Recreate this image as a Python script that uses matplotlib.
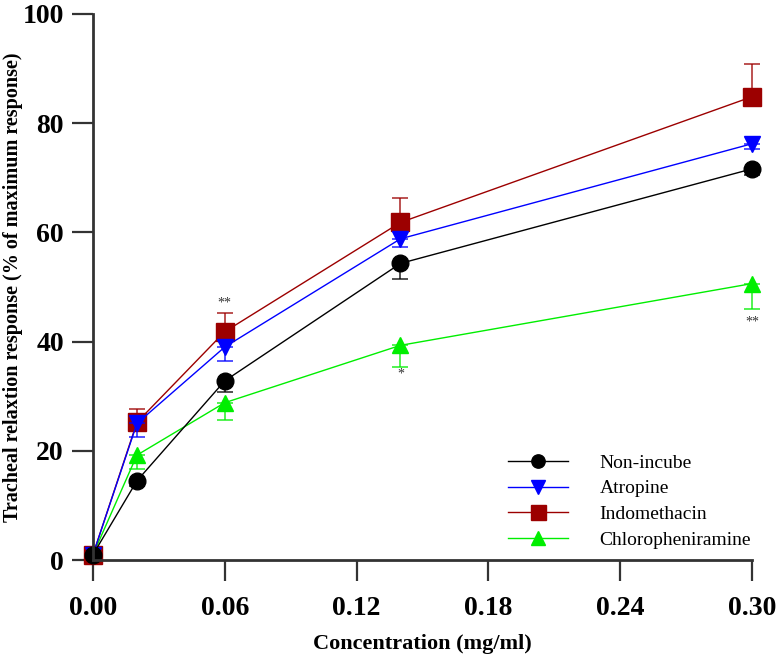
import matplotlib.pyplot as plt

conc = [0.0, 0.02, 0.06, 0.14, 0.30]

non_incube = [1.0, 14.5, 32.8, 54.3, 71.6]
non_incube_err = [0.5, 1.0, 2.0, 2.9, 1.2]

atropine = [1.0, 25.0, 39.0, 58.8, 76.2]
atropine_err = [0.5, 2.5, 2.5, 1.5, 1.0]

indomethacin = [1.0, 25.2, 41.8, 61.8, 84.8]
indomethacin_err = [0.5, 2.5, 3.5, 4.5, 6.0]

chlorphen = [1.0, 19.2, 28.8, 39.3, 50.6]
chlorphen_err = [0.5, 2.5, 3.2, 4.0, 4.7]

x_ticks = [0.00, 0.06, 0.12, 0.18, 0.24, 0.30]
y_ticks = [0, 20, 40, 60, 80, 100]

# (x, y, text) significance marks
stars = [(0.06, 47.0, '**'), (0.14, 34.0, '*'), (0.30, 43.5, '**')]

plt.rcParams['font.family'] = ['Liberation Serif', 'DejaVu Serif']

fig = plt.figure(figsize=(7.77, 6.55), dpi=100)
ax = fig.add_axes([0.1197, 0.145, 0.848, 0.834])

series = [
    # label, y, err, color, marker, size, upper error?
    ('Chloropheniramine', chlorphen, chlorphen_err, '#00ee00', '^', 12, False),
    ('Indomethacin', indomethacin, indomethacin_err, '#9c0000', 's', 13.5, True),
    ('Atropine', atropine, atropine_err, '#0000ff', 'v', 12, False),
    ('Non-incube', non_incube, non_incube_err, 'black', 'o', 12, False),
]

handles = {}
for lab, y, err, col, mk, ms, up in series:
    if up:
        yerr = [[0] * len(err), err]
    else:
        yerr = [err, [0] * len(err)]
    ax.errorbar(conc, y, yerr=yerr, fmt='none', ecolor=col, elinewidth=1.2,
                capsize=6, capthick=1.2, clip_on=False, alpha=0.8)
    line, = ax.plot(conc, y, color=col, lw=1.0, marker=mk, markersize=ms,
                    markerfacecolor=col, markeredgecolor=col, clip_on=False,
                    label=lab)
    handles[lab] = line

for x, y, t in stars:
    ax.text(x, y, t, ha='center', va='center', fontsize=10, color='#333333')

ax.set_xlim(0, 0.30)
ax.set_ylim(0, 100)
ax.set_xticks(x_ticks)
ax.set_xticklabels(['%.2f' % v for v in x_ticks])
ax.set_yticks(y_ticks)

for s in ['top', 'right']:
    ax.spines[s].set_visible(False)
for s in ['left', 'bottom']:
    ax.spines[s].set_linewidth(2)
    ax.spines[s].set_color('#333333')

ax.tick_params(direction='out', length=15, width=1.6, color='#333333',
               labelsize=20)
ax.tick_params(axis='x', pad=11)
ax.tick_params(axis='y', pad=6)
for t in ax.get_xticklabels() + ax.get_yticklabels():
    t.set_fontweight('bold')

ax.set_xlabel('Concentration (mg/ml)', fontsize=16, fontweight='bold', labelpad=9)
ax.set_ylabel('Tracheal relaxtion response (% of maximum response)',
              fontsize=14.5, fontweight='bold')
ax.yaxis.set_label_coords(-0.106, 0.5)

order = ['Non-incube', 'Atropine', 'Indomethacin', 'Chloropheniramine']
ax.legend([handles[k] for k in order], order, loc='lower left',
          bbox_to_anchor=(0.654, 0.162), bbox_transform=fig.transFigure,
          frameon=False, fontsize=14, borderpad=0, borderaxespad=0,
          handlelength=3.1, handletextpad=1.6, labelspacing=0.42,
          markerscale=0.8)

fig.savefig('out.png', dpi=100)
